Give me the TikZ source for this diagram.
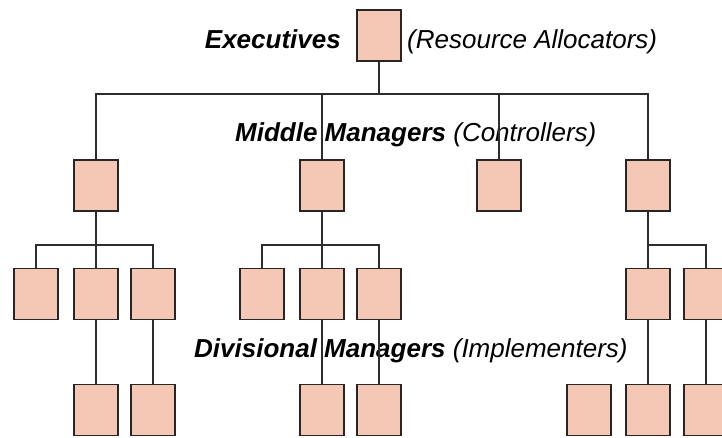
\documentclass[tikz,border=0pt]{standalone}
\usepackage{fontspec}
\setmainfont{Liberation Sans}
\definecolor{boxfill}{RGB}{244,200,181}
\definecolor{boxline}{RGB}{38,38,38}
\definecolor{conn}{RGB}{45,45,45}
\tikzset{
  unit/.style={draw=boxline, fill=boxfill, line width=1.5pt, minimum width=44pt, minimum height=51pt, inner sep=0pt},
  link/.style={draw=conn, line width=1.3pt},
  lbl/.style={inner sep=0pt, font=\fontsize{26}{31}\selectfont}
}
\begin{document}
\begin{tikzpicture}[x=1pt,y=-1pt]
\useasboundingbox (0,0) rectangle (722,437);
% labels
\node[lbl, anchor=base east] (lexec) at (341,48) {\bfseries\itshape Executives};
\node[lbl, anchor=base west] (lres) at (407,48) {\itshape (Resource Allocators)};
\node[lbl, anchor=base west] (lmid) at (235,141) {\bfseries\itshape Middle Managers \mdseries(Controllers)};
\node[lbl, anchor=base west] (ldiv) at (194,357) {\bfseries\itshape Divisional Managers \mdseries(Implementers)};
% bus levels
\coordinate (bus1) at (0,94);
\coordinate (bus2) at (0,245);
% nodes
\node[unit] (top) at (379,35.5) {};
\node[unit] (m1) at (96,185.5) {};
\node[unit] (m2) at (322,185.5) {};
\node[unit] (m3) at (499,185.5) {};
\node[unit] (m4) at (648,185.5) {};
\node[unit] (d1) at (36,294) {};
\node[unit] (d2) at (96,294) {};
\node[unit] (d3) at (153,294) {};
\node[unit] (d4) at (262,294) {};
\node[unit] (d5) at (322,294) {};
\node[unit] (d6) at (379,294) {};
\node[unit] (d7) at (648,294) {};
\node[unit] (d8) at (706,294) {};
\node[unit] (b1) at (96,410) {};
\node[unit] (b2) at (153,410) {};
\node[unit] (b3) at (322,410) {};
\node[unit] (b4) at (379,410) {};
\node[unit] (b5) at (589,410) {};
\node[unit] (b6) at (648,410) {};
\node[unit] (b7) at (706,410) {};
% connectors
\foreach \c in {m1,m2,m3,m4} \draw[link] (top.south) |- (\c.north |- bus1) -- (\c.north);
\foreach \c in {d1,d2,d3} \draw[link] (m1.south) |- (\c.north |- bus2) -- (\c.north);
\foreach \c in {d4,d5,d6} \draw[link] (m2.south) |- (\c.north |- bus2) -- (\c.north);
\foreach \c in {d7,d8} \draw[link] (m4.south) |- (\c.north |- bus2) -- (\c.north);
\draw[link] (d2.south) -- (b1.north);
\draw[link] (d3.south) -- (b2.north);
\draw[link] (d5.south) -- (b3.north);
\draw[link] (d6.south) -- (b4.north);
\draw[link] (d7.south) -- (b6.north);
\draw[link] (d8.south) -- (b7.north);
\end{tikzpicture}
\end{document}
